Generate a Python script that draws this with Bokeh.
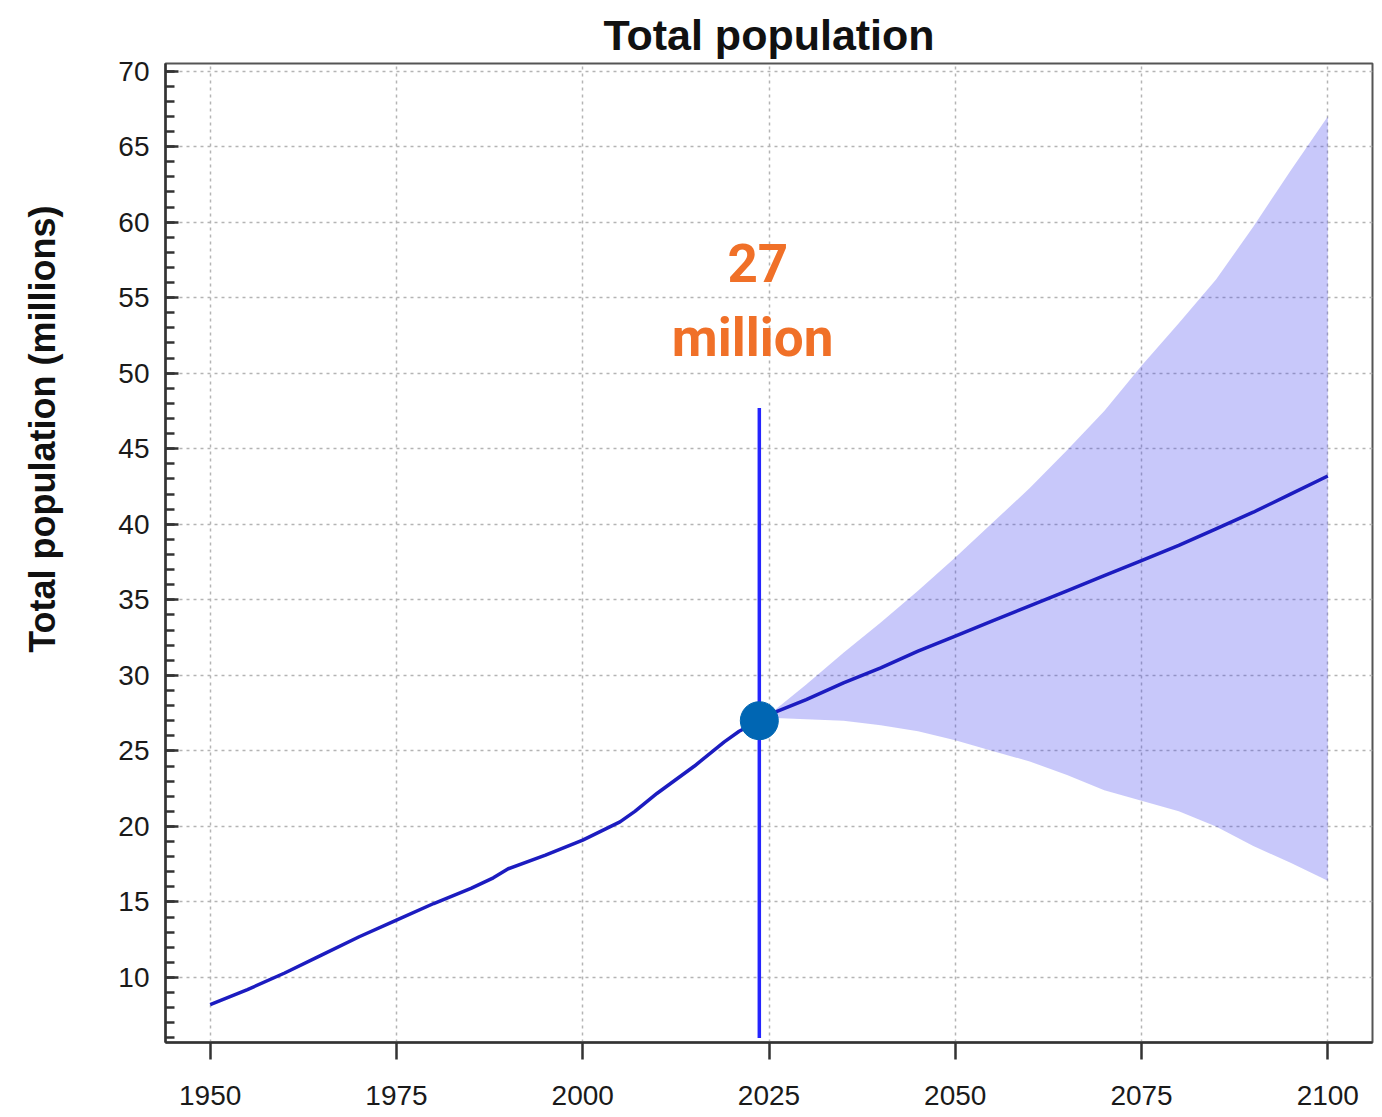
from bokeh.plotting import figure
from bokeh.models import ColumnDataSource, FixedTicker, Range1d, Label
from bokeh.layouts import row
from bokeh.core.properties import value
from bokeh.embed import file_html
from bokeh.resources import INLINE

# ---- data ----
hist_years = [1950, 1955, 1960, 1965, 1970, 1975, 1980, 1985, 1988, 1990, 1995,
              2000, 2005, 2007, 2010, 2015, 2019, 2021, 2023.7]
hist_pop = [8.2, 9.2, 10.3, 11.5, 12.7, 13.8, 14.9, 15.9, 16.6, 17.2, 18.1,
            19.1, 20.3, 21.0, 22.2, 24.0, 25.6, 26.3, 27.0]

proj_years = [2023.7, 2025, 2030, 2035, 2040, 2045, 2050, 2055, 2060, 2065, 2070,
              2075, 2080, 2085, 2090, 2095, 2100]
proj_median = [27.0, 27.4, 28.4, 29.5, 30.5, 31.6, 32.6, 33.6, 34.6, 35.6, 36.6,
               37.6, 38.6, 39.7, 40.8, 42.0, 43.2]
proj_upper = [27.0, 27.4, 29.4, 31.5, 33.5, 35.6, 37.8, 40.1, 42.4, 44.9, 47.5,
              50.5, 53.3, 56.2, 59.7, 63.4, 67.0]
proj_lower = [27.0, 27.2, 27.1, 27.0, 26.7, 26.3, 25.7, 25.0, 24.3, 23.4, 22.4,
              21.7, 21.0, 20.0, 18.7, 17.6, 16.4]

marker_year = [2023.7]
marker_pop = [27.0]
marker_line_bottom = [6.0]
marker_line_top = [47.7]
marker_text = ["27", "million"]

x_ticks = [1950, 1975, 2000, 2025, 2050, 2075, 2100]
y_ticks = [10, 15, 20, 25, 30, 35, 40, 45, 50, 55, 60, 65, 70]
y_minor = list(range(6, 71))

title_text = "Total population"
y_title_text = "Total population (millions)"

FONT = "Liberation Sans"
AX = "#333333"
H = 1114
SIDE_W = 92

# ---- narrow side panel holding the rotated y-axis title ----
side = figure(width=SIDE_W, height=H, x_range=Range1d(0, SIDE_W), y_range=Range1d(H, 0),
              output_backend="svg", toolbar_location=None, min_border=0,
              x_axis_location=None, y_axis_location=None,
              outline_line_color=None, background_fill_color="white",
              border_fill_color="white")
side.grid.visible = False
side.text(x=[42], y=[416], text=[y_title_text], angle=1.5708,
          text_font=value(FONT), text_font_style="bold", text_font_size="36px",
          text_color="#111111", text_align="center", text_baseline="middle")

# ---- main chart ----
p = figure(frame_width=1207, frame_height=979,
           x_range=Range1d(1944, 2106), y_range=Range1d(5.7, 70.5),
           output_backend="svg", toolbar_location=None,
           min_border_left=165 - SIDE_W, min_border_right=10, min_border_top=63,
           min_border_bottom=H - 63 - 979, background_fill_color="white",
           border_fill_color="white")

p.title.text = title_text
p.title.align = "center"
p.title.text_font = FONT
p.title.text_font_size = "43px"
p.title.text_font_style = "bold"
p.title.text_color = "#111111"

p.outline_line_color = "#555555"
p.outline_line_width = 2

# y axis
p.yaxis.ticker = FixedTicker(ticks=y_ticks, minor_ticks=y_minor)
p.yaxis.major_tick_in = 13
p.yaxis.major_tick_out = 0
p.yaxis.minor_tick_in = 9
p.yaxis.minor_tick_out = 0
p.yaxis.major_label_standoff = 16
# x axis
p.xaxis.ticker = FixedTicker(ticks=x_ticks, minor_ticks=[])
p.xaxis.major_tick_in = 0
p.xaxis.major_tick_out = 17
p.xaxis.major_label_standoff = 26
for ax in (p.xaxis, p.yaxis):
    ax.axis_line_color = AX
    ax.axis_line_width = 2.5
    ax.major_tick_line_color = AX
    ax.major_tick_line_width = 2.5
    ax.minor_tick_line_color = AX
    ax.minor_tick_line_width = 2.5
    ax.major_label_text_font = FONT
    ax.major_label_text_font_size = "28px"
    ax.major_label_text_color = "#1a1a1a"

for g in (p.xgrid, p.ygrid):
    g.grid_line_color = "#b4b4b4"
    g.grid_line_width = 1.5
    g.grid_line_dash = "3 4"

# projection band (semi-transparent so the dotted grid shows through)
band_src = ColumnDataSource(dict(x=proj_years, lo=proj_lower, hi=proj_upper))
p.varea(x="x", y1="lo", y2="hi", source=band_src, fill_color="#4848ee", fill_alpha=0.3)

# median lines
p.line(hist_years, hist_pop, line_color="#1c1cc0", line_width=3.5)
p.line(proj_years, proj_median, line_color="#1c1cc0", line_width=3.5)

# current-year marker
p.segment(x0=marker_year, y0=marker_line_bottom, x1=marker_year, y1=marker_line_top,
          line_color="#2424ff", line_width=3.5)
p.scatter(marker_year, marker_pop, size=38, fill_color="#0066b3", line_color="#0066b3")

p.add_layout(Label(x=marker_year[0] - 0.2, y=57.3, text=marker_text[0],
                   text_font="Roboto", text_font_style="bold", text_font_size="53px",
                   text_color="#f07028", text_align="center", text_baseline="middle"))
p.add_layout(Label(x=marker_year[0] - 0.9, y=52.3, text=marker_text[1],
                   text_font="Roboto", text_font_style="bold", text_font_size="53px",
                   text_color="#f07028", text_align="center", text_baseline="middle"))

layout = row(side, p)
open("out.html", "w").write(file_html(layout, INLINE))
